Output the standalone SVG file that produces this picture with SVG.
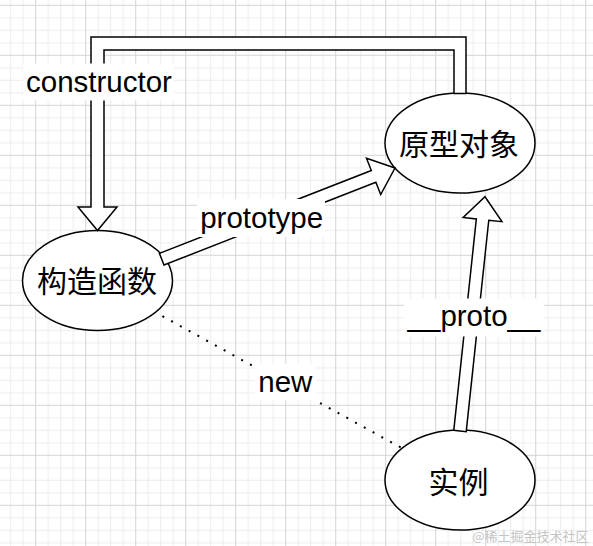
<svg xmlns="http://www.w3.org/2000/svg" width="593" height="546" viewBox="0 0 593 546">
  <defs>
    <pattern id="grid" x="35.2" y="4.8" width="50" height="50" patternUnits="userSpaceOnUse">
      <path d="M13,0V50 M25.5,0V50 M38,0V50 M0,13H50 M0,25.5H50 M0,38H50" fill="none" stroke="#ececec" stroke-width="1"/>
      <path d="M0.5,0V50 M0,0.5H50" fill="none" stroke="#d4d4d4" stroke-width="1"/>
    </pattern>
    <style>
      .node { fill: #ffffff; stroke: #000000; stroke-width: 1.5; }
      .flex { fill: #ffffff; stroke: #000000; stroke-width: 1.5; stroke-linejoin: miter; }
      .dots { fill: none; stroke: #000000; stroke-width: 2; stroke-dasharray: 2 8; }
      .lbl { font-family: "Liberation Sans", Arial, sans-serif; font-size: 29.5px; fill: #000000; text-anchor: middle; }
      .cjk { font-family: "Noto Sans CJK SC", "Microsoft YaHei", sans-serif; font-size: 30px; fill: #000000; text-anchor: middle; }
      .lblbg { fill: #ffffff; }
      .wm { font-family: "Noto Sans CJK SC", sans-serif; font-size: 13px; fill: #c4c4c4; text-anchor: end; }
    </style>
  </defs>
  <rect x="0" y="0" width="593" height="546" fill="#ffffff"/>
  <rect x="0" y="0" width="593" height="546" fill="url(#grid)"/>

  <g id="node-prototype-object">
    <ellipse class="node" cx="460" cy="143" rx="75" ry="50"/>
    <text class="cjk" x="459" y="154.5">原型对象</text>
  </g>
  <g id="node-constructor-function">
    <ellipse class="node" cx="97.5" cy="280.5" rx="75" ry="50"/>
    <text class="cjk" x="97" y="292">构造函数</text>
  </g>
  <g id="node-instance">
    <ellipse class="node" cx="460" cy="480" rx="75" ry="50"/>
    <text class="cjk" x="458.5" y="492.5">实例</text>
  </g>

  <g id="connectors">
    <g id="edge-constructor">
      <path class="flex" d="M466,93.5 V37 H91 V207 H78 L97.5,230.5 L117,207 H104 V50 H454 V93.5 Z"/>
      <rect class="lblbg" x="23" y="63.5" width="151" height="37"/>
      <text class="lbl" x="99" y="91.5">constructor</text>
    </g>
    <g id="edge-prototype">
      <path class="flex" transform="translate(161.7,259.2) rotate(-21.35)" d="M0,-6.25 H227.5 V-19.5 L250.5,0 L227.5,19.5 V6.25 H0 Z"/>
      <rect class="lblbg" x="197" y="199" width="128" height="38"/>
      <text class="lbl" x="261.7" y="227.5">prototype</text>
    </g>
    <g id="edge-proto">
      <path class="flex" transform="translate(460,431) rotate(-83.91)" d="M0,-6.25 H212.6 V-19.5 L235.6,0 L212.6,19.5 V6.25 H0 Z"/>
      <rect class="lblbg" x="404" y="298.5" width="140" height="38"/>
      <text class="lbl" x="474" y="326">__proto__</text>
    </g>
    <g id="edge-new">
      <path class="dots" d="M155.4,312.3 L402.1,448.2" stroke-dashoffset="-8"/>
      <rect class="lblbg" x="255" y="364" width="61" height="36"/>
      <text class="lbl" x="285.3" y="391.7">new</text>
    </g>
  </g>

  <text class="wm" x="588.5" y="540.5">@稀土掘金技术社区</text>
</svg>
